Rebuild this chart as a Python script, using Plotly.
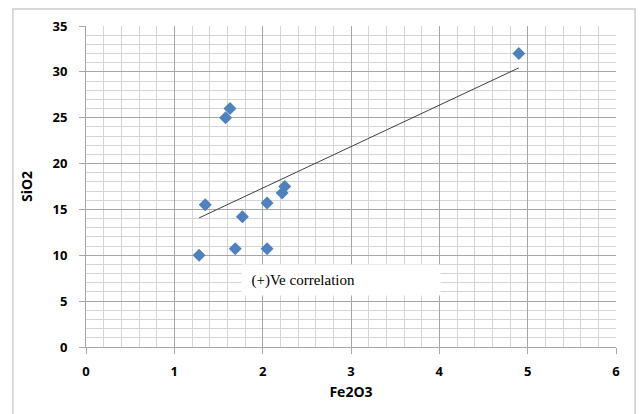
import numpy as np
import plotly.graph_objects as go

# Data
fe2o3 = [1.28, 1.35, 1.58, 1.63, 1.69, 1.77, 2.05, 2.05, 2.22, 2.25, 4.90]
sio2 = [10.0, 15.5, 25.0, 26.0, 10.7, 14.2, 15.7, 10.7, 16.8, 17.5, 32.0]

x_ticks = [0, 1, 2, 3, 4, 5, 6]
y_ticks = [0, 5, 10, 15, 20, 25, 30, 35]
annotation_text = "(+)Ve correlation"

# Linear trendline (least squares), spanning the data range
slope, intercept = np.polyfit(fe2o3, sio2, 1)
tx = [min(fe2o3), max(fe2o3)]
ty = [slope * v + intercept for v in tx]

fig = go.Figure()
fig.add_trace(go.Scatter(
    x=tx, y=ty, mode="lines",
    line=dict(color="#404040", width=1),
    hoverinfo="skip", showlegend=False,
))
fig.add_trace(go.Scatter(
    x=fe2o3, y=sio2, mode="markers",
    marker=dict(symbol="diamond", size=10, color="#4f81bd"),
    showlegend=False,
))

FONT = "Open Sans"
tick_font = dict(family=FONT, size=13, color="#000000", weight="bold")

fig.update_xaxes(
    range=[0, 6], tickvals=x_ticks, ticktext=[str(v) for v in x_ticks],
    showgrid=True, gridcolor="#a6a6a6", gridwidth=1,
    minor=dict(dtick=0.2, showgrid=True, gridcolor="#d4d4d4", gridwidth=1),
    ticks="outside", ticklen=6, tickcolor="#a6a6a6",
    ticklabelstandoff=6,
    showline=True, linecolor="#a6a6a6", mirror=False,
    zeroline=False, tickfont=tick_font, automargin=False,
    title=dict(text="Fe2O3", font=dict(family=FONT, size=14, color="#000000", weight="bold"), standoff=8),
)
fig.update_yaxes(
    range=[0, 35], tickvals=y_ticks, ticktext=[str(v) for v in y_ticks],
    showgrid=True, gridcolor="#a6a6a6", gridwidth=1,
    minor=dict(dtick=1, showgrid=True, gridcolor="#d4d4d4", gridwidth=1),
    ticks="outside", ticklen=6, tickcolor="#a6a6a6",
    ticklabelstandoff=9,
    showline=True, linecolor="#a6a6a6", mirror=False,
    zeroline=False, tickfont=tick_font, automargin=False,
    title=dict(text="SiO2", font=dict(family=FONT, size=14, color="#000000", weight="bold"), standoff=16),
)

fig.add_annotation(
    x=2.89, y=7.28, xref="x", yref="y",
    text="&nbsp;&nbsp;" + annotation_text, showarrow=False,
    font=dict(family="Liberation Serif", size=15, color="#000000"),
    bgcolor="#ffffff", borderpad=2,
    width=194, height=26, align="left",
    xanchor="center", yanchor="middle",
)

# Outer chart border
fig.add_shape(
    type="rect", xref="paper", yref="paper",
    x0=-0.138, x1=1.036, y0=-0.25, y1=1.053,
    line=dict(color="#cccccc", width=1.5), fillcolor="rgba(0,0,0,0)",
    layer="above",
)

fig.update_layout(
    width=644, height=414,
    margin=dict(l=86, r=28, t=26, b=67, autoexpand=False),
    paper_bgcolor="#ffffff", plot_bgcolor="#ffffff",
    showlegend=False,
)

fig.write_html(
    "out.html",
    config={"displayModeBar": False},
    post_script="document.body.style.margin='0';document.body.style.overflow='hidden';",
)
